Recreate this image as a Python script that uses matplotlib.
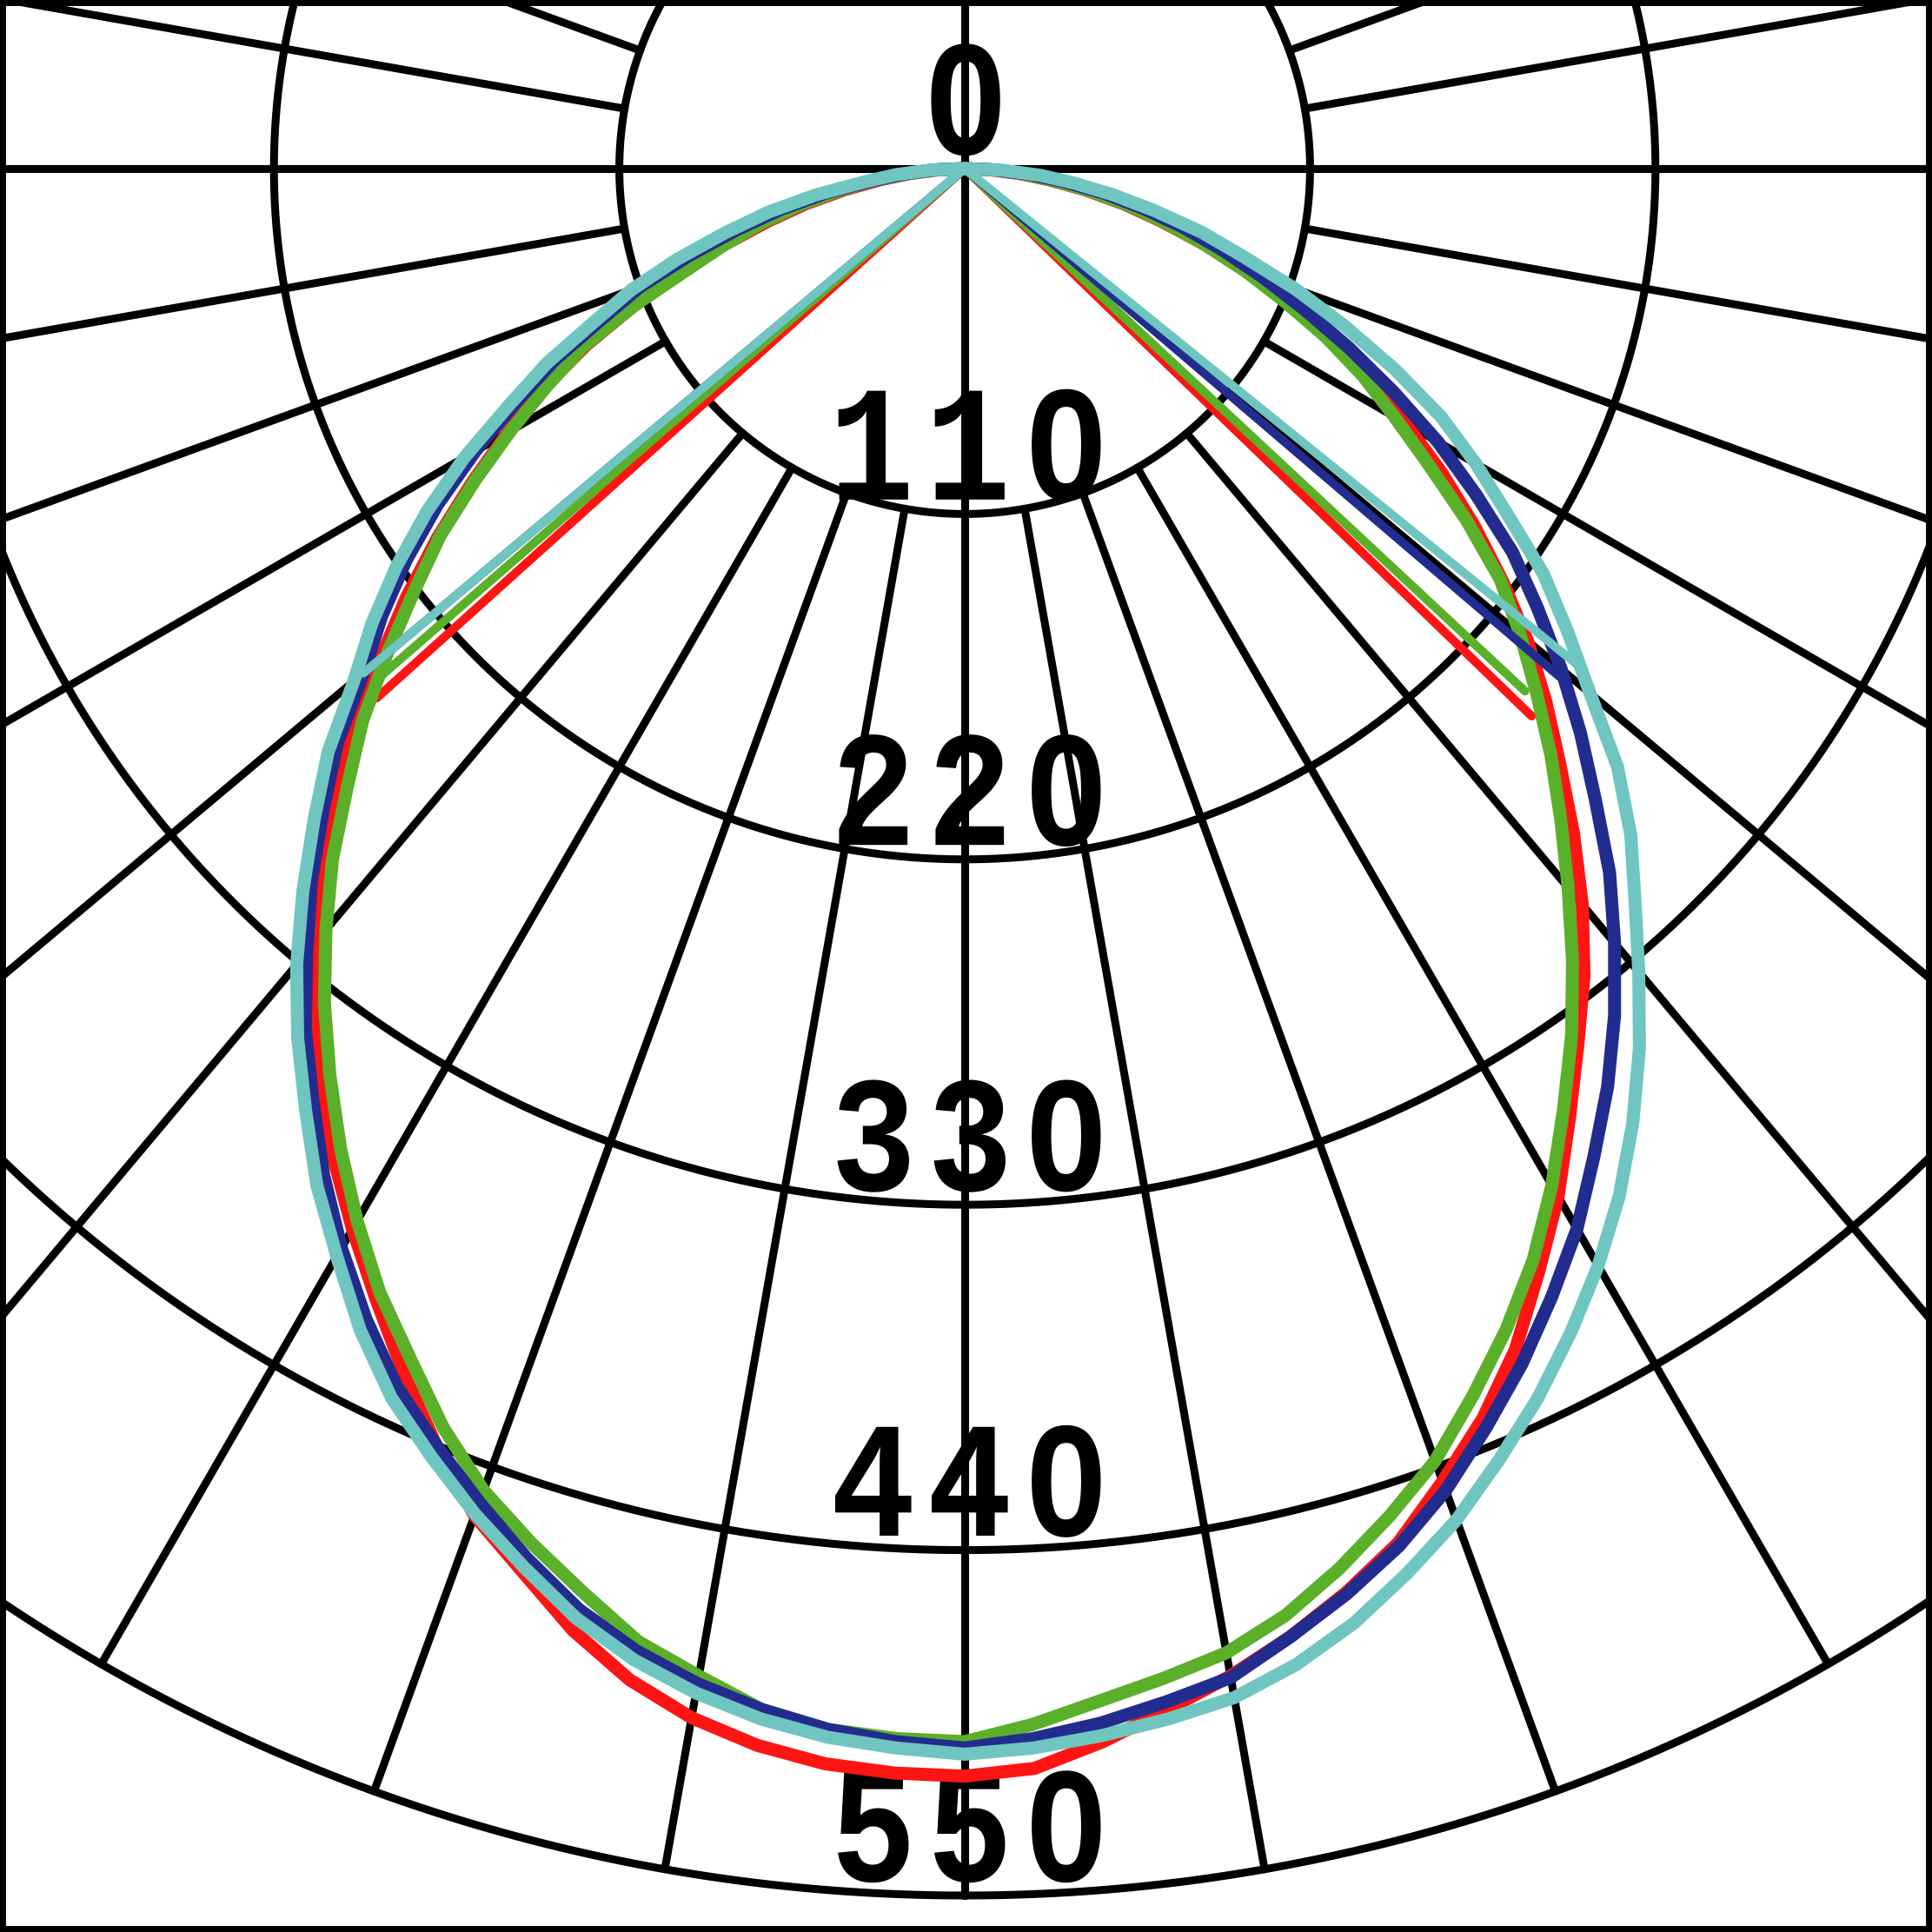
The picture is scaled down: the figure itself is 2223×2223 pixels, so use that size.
import matplotlib
matplotlib.use("Agg")
import matplotlib.pyplot as plt
import numpy as np
from matplotlib.textpath import TextPath
from matplotlib.font_manager import FontProperties
from matplotlib.path import Path
from matplotlib.patches import PathPatch

# polar grid: intensity rings and spoke spacing (degrees)
rings = [110, 220, 330, 440, 550]
ring_labels = ["0", "110", "220", "330", "440", "550"]
label_values = [0, 110, 220, 330, 440, 550]
spoke_step = 10

# gamma angles (deg from nadir), intensities read per half-plane
angles = [0, 2.5, 5, 7.5, 10, 12.5, 15, 17.5, 20, 22.5, 25, 27.5, 30, 32.5, 35, 37.5,
          40, 42.5, 45, 47.5, 50, 52.5, 55, 57.5, 60, 62.5, 65, 67.5, 70, 72.5, 75,
          77.5, 80, 82.5, 85, 87.5, 90]

red_left = [512, 511.5, 510, 506.5, 501, 493, 482, 468.5, 456.5, 440, 423, 406, 390, 374,
            357, 339.5, 322, 304, 283, 264, 243, 224, 205, 186, 168, 151, 133, 114, 95,
            80, 65, 52, 39, 27, 17, 8, 0]
red_right = [512, 510, 503, 495, 487.5, 479, 469.5, 459, 445, 431, 415, 396, 378, 358.5,
             340.5, 324, 306, 287, 268, 251, 234, 216, 198, 180, 162, 145, 128, 111, 95,
             80, 65, 52, 39, 27, 17, 8, 0]
green_left = [501, 500.5, 499, 495, 487.5, 480.5, 469.5, 459, 448, 434, 418, 403.5, 387,
              370, 352.5, 335, 316.5, 298, 278, 260, 240, 221, 204, 185, 167, 150, 134,
              114, 94, 80, 67, 54, 41, 29, 18, 9, 0]
green_right = [500, 496, 490, 485, 480, 472, 461.5, 450, 438, 423, 408, 392, 374, 355, 337,
               318, 299, 281, 264, 247, 231, 215, 195, 175, 158, 143, 127, 110, 95, 80, 66,
               53, 40, 28, 18, 9, 0]
blue_left = [503, 501.5, 499, 495, 490, 483.5, 475, 464, 452, 440, 428, 413, 397, 380, 362,
             345, 326, 308, 289, 271, 250, 234, 217, 199, 180, 161, 144, 125, 110, 92, 75,
             60, 45, 30, 20, 10, 0]
blue_right = [503, 500.5, 497, 492.5, 488, 479, 470, 460, 448, 434, 420, 405, 390, 373, 357,
              340, 322, 304, 284, 266, 248, 230, 213, 193, 174, 154, 135, 117, 101, 86, 72,
              58, 45, 32, 21, 10, 0]
cyan_left = [505, 503.5, 501.5, 498, 493, 486.5, 478, 467, 456, 444, 432, 417, 400, 384,
             366, 349, 331, 312, 293, 275, 254, 238, 221, 203, 184, 164, 147, 128, 113, 96,
             79, 64, 48, 32, 22, 11, 0]
cyan_right = [505, 503.5, 501, 498, 494.5, 488, 479.5, 469, 458, 445, 432, 418, 403.5, 388,
              371, 353, 334, 316, 300, 282, 260, 242, 225, 205, 188, 171, 151, 131, 112, 93,
              78, 62, 48, 35, 24, 12, 0]

# end points of the short plane (angle, intensity) on left / right
red_tip_left, red_tip_right = (48, 252), (46, 251)
green_tip_left, green_tip_right = (49, 247), (47, 244)
blue_tip_left, blue_tip_right = (50, 249), (49.5, 249)
cyan_tip_left, cyan_tip_right = (50, 250), (51, 251)

series = [
    ("#ff1414", red_left, red_right, red_tip_left, red_tip_right),
    ("#5ab028", green_left, green_right, green_tip_left, green_tip_right),
    ("#222c8e", blue_left, blue_right, blue_tip_left, blue_tip_right),
    ("#6fc6c0", cyan_left, cyan_right, cyan_tip_left, cyan_tip_right),
]

PX = 3.6127          # pixels per intensity unit
DPI = 100


def to_xy(theta, r, side):
    t = np.radians(np.asarray(theta, dtype=float))
    r = np.asarray(r, dtype=float)
    return side * r * np.sin(t), -r * np.cos(t)


label_font = FontProperties(family="Liberation Mono", weight="bold")
glyph_em = 190 / PX      # font size in data units
glyph_xscale = 0.86      # narrower digits, as in the original
char_step = 111 / PX     # distance between digit centres


def glyph_polys(ch):
    # outline of one digit, dropping the dot inside the zero
    polys = TextPath((0, 0), ch, size=1000, prop=label_font).to_polygons()
    boxes = [(p[:, 0].min(), p[:, 1].min(), p[:, 0].max(), p[:, 1].max()) for p in polys]
    keep = []
    for i, b in enumerate(boxes):
        depth = sum(1 for j, o in enumerate(boxes)
                    if j != i and o[0] <= b[0] and o[1] <= b[1] and o[2] >= b[2] and o[3] >= b[3])
        if depth < 2:
            keep.append(polys[i] * [glyph_em * glyph_xscale / 1000, glyph_em / 1000])
    cx = (min(p[:, 0].min() for p in keep) + max(p[:, 0].max() for p in keep)) / 2
    return [p - [cx, 0] for p in keep]


def label_path(s, xc, ybase):
    verts, codes = [], []
    n = len(s)
    for k, ch in enumerate(s):
        dx = xc + (k - (n - 1) / 2) * char_step
        for p in glyph_polys(ch):
            q = p + [dx, ybase]
            verts.extend(q)
            codes += [Path.MOVETO] + [Path.LINETO] * (len(q) - 2) + [Path.CLOSEPOLY]
    return Path(verts, codes)


fig = plt.figure(figsize=(2223 / DPI, 2223 / DPI), dpi=DPI)
ax = fig.add_axes([0, 0, 1, 1])

grid_kw = dict(color="black", lw=6.5, solid_capstyle="round", zorder=1)

# rings
t = np.linspace(0, 2 * np.pi, 1441)
for r in rings:
    ax.plot(r * np.cos(t), r * np.sin(t), **grid_kw)

# spokes
for a in range(0, 181, spoke_step):
    r0 = 0 if a % 90 == 0 else rings[0]
    for side in (-1, 1):
        xs, ys = to_xy([a, a], [r0, rings[-1]], side)
        ax.plot(xs, ys, **grid_kw)

# ring labels along the nadir axis
for val, lab in zip(label_values, ring_labels):
    xc = 0.3 if len(lab) == 1 else 1.6
    ax.add_patch(PathPatch(label_path(lab, xc, -val + 4.6), facecolor="black",
                           edgecolor="none", zorder=2))

# light distribution curves
for color, left, right, tip_l, tip_r in series:
    xl, yl = to_xy(angles, left, -1)
    xr, yr = to_xy(angles, right, 1)
    xs = np.concatenate([xl[::-1], xr[1:]])
    ys = np.concatenate([yl[::-1], yr[1:]])
    ax.plot(xs, ys, color=color, lw=10.8, solid_joinstyle="round",
            solid_capstyle="round", zorder=3)
    for tip, side in ((tip_l, -1), (tip_r, 1)):
        tx, ty = to_xy([tip[0], tip[0]], [0, tip[1]], side)
        ax.plot(tx, ty, color=color, lw=7.2, solid_capstyle="round", zorder=3)

ax.set_xlim(-1110 / PX, (2223 - 1110) / PX)
ax.set_ylim(-(2223 - 194) / PX, 194 / PX)
ax.set_xticks([])
ax.set_yticks([])
for sp in ax.spines.values():
    sp.set_linewidth(10)
    sp.set_color("black")

fig.savefig("out.png", dpi=DPI)
